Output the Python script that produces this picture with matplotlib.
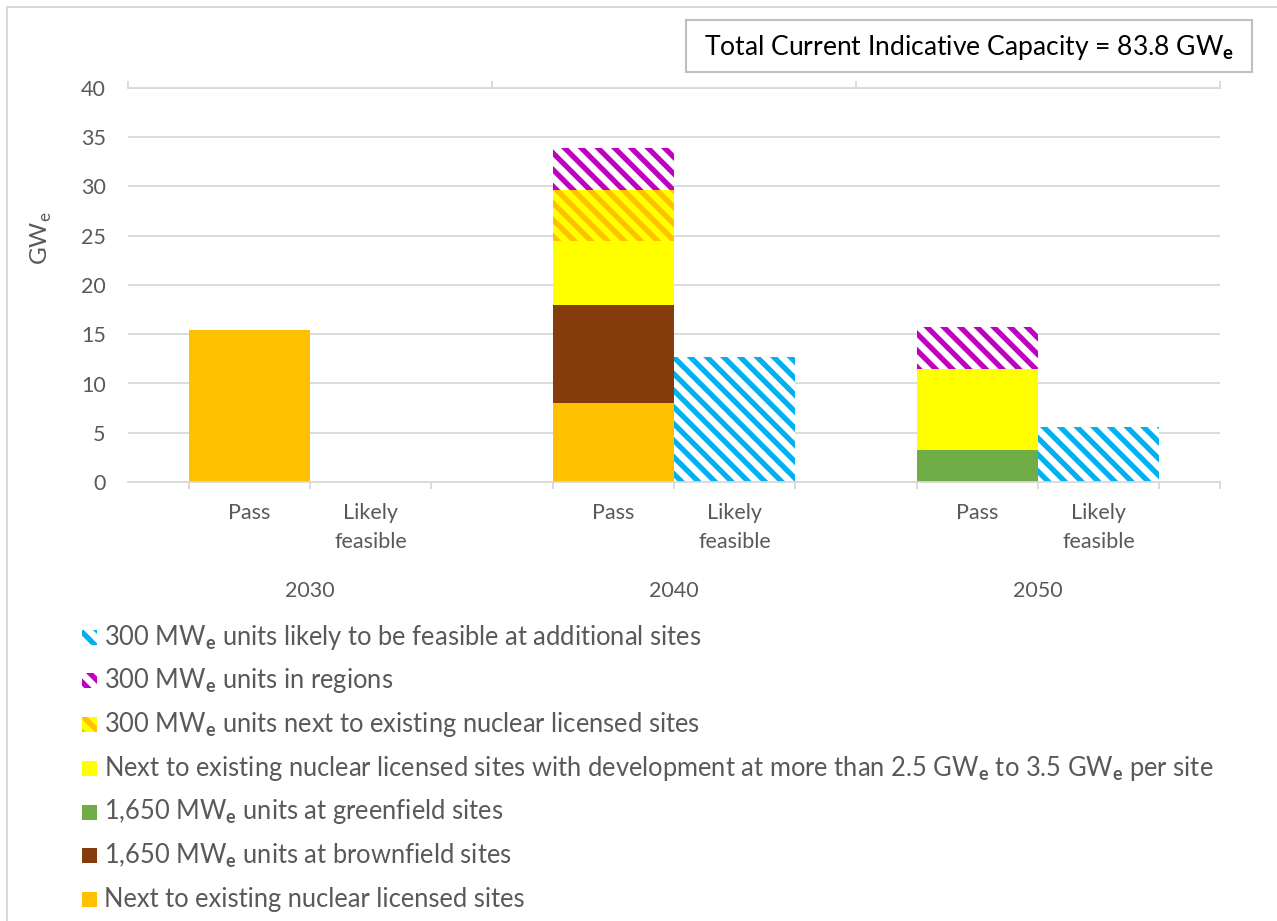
import matplotlib
matplotlib.use('Agg')
import matplotlib.pyplot as plt
from matplotlib.patches import Rectangle
from matplotlib.transforms import blended_transform_factory

plt.rcParams['font.family'] = ['Lato', 'DejaVu Sans']
plt.rcParams['mathtext.fontset'] = 'custom'
plt.rcParams['mathtext.rm'] = 'Lato'
plt.rcParams['mathtext.bf'] = 'Lato:bold'
plt.rcParams['hatch.linewidth'] = 3.8

# === Daten ===
years = ['2030', '2040', '2050']
cases = ['Pass', 'Likely\nfeasible']
# Balken: 2030 Pass, 2030 Likely, 2040 Pass, 2040 Likely, 2050 Pass, 2050 Likely
next_existing = [15.4, 0, 8.0, 0, 0, 0]
brownfield = [0, 0, 10.0, 0, 0, 0]
greenfield = [0, 0, 0, 0, 3.2, 0]
next_dev = [0, 0, 6.5, 0, 8.3, 0]
smr_next = [0, 0, 5.1, 0, 0, 0]
smr_regions = [0, 0, 4.3, 0, 4.2, 0]
smr_likely = [0, 0, 0, 12.7, 0, 5.6]
total_capacity = 83.8

E = r'$_\mathbf{e}$'
# (Werte, Label, Fuellfarbe, Schraffurfarbe)
series = [
    (next_existing, 'Next to existing nuclear licensed sites', '#FFC000', None),
    (brownfield, '1,650 MW' + E + ' units at brownfield sites', '#843C0C', None),
    (greenfield, '1,650 MW' + E + ' units at greenfield sites', '#70AD47', None),
    (next_dev, 'Next to existing nuclear licensed sites with development at more than 2.5 GW'
     + E + ' to 3.5 GW' + E + ' per site', '#FFFF00', None),
    (smr_next, '300 MW' + E + ' units next to existing nuclear licensed sites', '#FFFF00', '#FFC000'),
    (smr_regions, '300 MW' + E + ' units in regions', '#FFFFFF', '#C000C0'),
    (smr_likely, '300 MW' + E + ' units likely to be feasible at additional sites', '#FFFFFF', '#00B0F0'),
]
# ======================

W, H = 1277, 921
fig = plt.figure(figsize=(W / 100, H / 100), dpi=100)

def fx(x):
    return x / W

def fy(y):
    return 1 - y / H

# aeusserer Rahmen
fig.add_artist(Rectangle((fx(7), -0.1), 1.2, fy(7) + 0.1, transform=fig.transFigure,
                         fill=False, edgecolor='#D9D9D9', lw=1.5))

ax = fig.add_axes([fx(128), fy(482), (1220 - 128) / W, (482 - 88) / H])

xpos = [1, 2, 4, 5, 7, 8]
bottom = [0] * len(xpos)
for vals, label, face, hcol in series:
    if hcol is None:
        ax.bar(xpos, vals, width=1.0, bottom=bottom, color=face, lw=0)
    else:
        ax.bar(xpos, vals, width=1.0, bottom=bottom, facecolor=face, edgecolor=hcol,
               hatch='\\\\', lw=0)
    bottom = [b + v for b, v in zip(bottom, vals)]

ax.set_xlim(0, 9)
ax.set_ylim(0, 40)
ax.set_yticks(range(0, 41, 5))
ax.yaxis.grid(True, color='#D9D9D9', lw=1.3)
ax.set_axisbelow(True)
for s in ['left', 'right', 'top']:
    ax.spines[s].set_visible(False)
ax.spines['bottom'].set_color('#D9D9D9')
ax.spines['bottom'].set_linewidth(1.3)
ax.tick_params(axis='y', length=0, pad=16, labelsize=15.5, labelcolor='#595959')
ax.set_xticks([0.5, 1.5, 2.5, 3.5, 4.5, 5.5, 6.5, 7.5, 8.5, 9])
ax.tick_params(axis='x', length=5, width=1.3, color='#D9D9D9', labelbottom=False)

top = ax.secondary_xaxis('top')
top.set_xticks([0, 3, 6, 9])
top.tick_params(length=5, width=1.3, color='#D9D9D9', labeltop=False)
top.spines['top'].set_color('#D9D9D9')
top.spines['top'].set_linewidth(1.3)

tr = blended_transform_factory(ax.transData, ax.transAxes)
for i, x in enumerate(xpos):
    ax.text(x, -21 / 394, cases[i % 2], transform=tr, ha='center', va='top',
            fontsize=15.5, color='#595959', linespacing=1.55)
for g, yr in enumerate(years):
    ax.text(1.5 + 3 * g, -109 / 394, yr, transform=tr, ha='center', va='center',
            fontsize=15.5, color='#595959')

fig.text(fx(41), fy(238), 'GW' + r'$_\mathregular{e}$', rotation=90, ha='center',
         va='center', fontsize=17.5, color='#595959')

# Kasten oben rechts
fig.add_artist(Rectangle((fx(686), fy(72)), (1252 - 686) / W, 52 / H,
                         transform=fig.transFigure, fill=False, edgecolor='#BFBFBF', lw=1.5))
fig.text(fx(969), fy(47), 'Total Current Indicative Capacity = %.1f GW' % total_capacity + E,
         ha='center', va='center', fontsize=19.1, color='#000000')

# Legende
for i, (vals, label, face, hcol) in enumerate(series[::-1]):
    yc = 637 + 43.75 * i
    if hcol is None:
        sq = Rectangle((fx(82), fy(yc + 7.5)), 15 / W, 15 / H, transform=fig.transFigure,
                       facecolor=face, lw=0)
    else:
        sq = Rectangle((fx(82), fy(yc + 7.5)), 15 / W, 15 / H, transform=fig.transFigure,
                       facecolor=face, edgecolor=hcol, hatch='\\\\', lw=0)
    fig.add_artist(sq)
    fig.text(fx(104), fy(yc), label, ha='left', va='center', fontsize=18.4, color='#595959')

fig.savefig('out.png', dpi=100)
